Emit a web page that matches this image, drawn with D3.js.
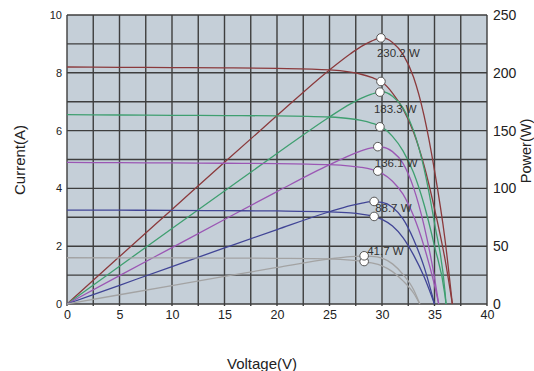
<!DOCTYPE html>
<html>
<head>
<meta charset="utf-8">
<script src="https://cdn.jsdelivr.net/npm/d3@7"></script>
<style>
  body { margin: 0; background: #fff; }
  svg { display: block; font-family: "Liberation Sans", Arial, sans-serif; }
</style>
</head>
<body>
<svg id="chart" width="534" height="371"></svg>
<script>
// I-V and P-V readings, one set per irradiance curve (top to bottom)
const voltageA = [0, 5, 10, 15, 20, 25, 27, 28, 29, 30, 31, 32, 33, 34, 35, 36, 36.7];
const currentA = [8.20, 8.19, 8.18, 8.17, 8.15, 8.10, 8.02, 7.95, 7.84, 7.68, 7.30, 6.75, 5.95, 4.80, 3.30, 1.55, 0];
const powerA = [0, 41, 81.8, 122.6, 163, 202.5, 216.5, 222.6, 227.4, 230.4, 226.3, 216, 196.4, 163.2, 115.5, 55.8, 0];

const voltageB = [0, 5, 10, 15, 20, 25, 27, 28, 29, 30, 31, 32, 33, 34, 35, 36, 36.1];
const currentB = [6.55, 6.54, 6.53, 6.52, 6.51, 6.47, 6.41, 6.35, 6.26, 6.12, 5.80, 5.30, 4.55, 3.45, 2.00, 0.30, 0];
const powerB = [0, 32.7, 65.3, 97.8, 130.2, 161.8, 173.1, 177.8, 181.5, 183.6, 179.8, 169.6, 150.2, 117.3, 70, 10.8, 0];

const voltageC = [0, 5, 10, 15, 20, 25, 27, 28, 29, 30, 31, 32, 33, 34, 35, 35.4];
const currentC = [4.90, 4.89, 4.88, 4.87, 4.86, 4.82, 4.77, 4.73, 4.66, 4.52, 4.25, 3.80, 3.05, 2.00, 0.65, 0];
const powerC = [0, 24.5, 48.8, 73.1, 97.2, 120.5, 128.8, 132.4, 135.1, 135.6, 131.8, 121.6, 100.7, 68, 22.8, 0];

const voltageD = [0, 5, 10, 15, 20, 25, 27, 28, 29, 30, 31, 32, 33, 34, 35];
const currentD = [3.25, 3.245, 3.24, 3.23, 3.22, 3.19, 3.15, 3.11, 3.05, 2.93, 2.70, 2.30, 1.70, 0.95, 0];
const powerD = [0, 16.2, 32.4, 48.5, 64.4, 79.8, 85.1, 87.1, 88.5, 87.9, 83.7, 73.6, 56.1, 32.3, 0];

const voltageE = [0, 5, 10, 15, 20, 25, 27, 28, 29, 30, 31, 32, 33, 33.6];
const currentE = [1.60, 1.598, 1.595, 1.59, 1.58, 1.56, 1.52, 1.48, 1.42, 1.32, 1.12, 0.80, 0.38, 0];
const powerE = [0, 8, 15.95, 23.85, 31.6, 39, 41, 41.4, 41.2, 39.6, 34.7, 25.6, 12.5, 0];

// maximum power points
const mppVoltage = [29.9, 29.8, 29.6, 29.25, 28.3];
const mppCurrent = [7.70, 6.13, 4.60, 3.03, 1.47];
const mppPower = [230.2, 183.3, 136.1, 88.7, 41.7];

// axis ticks
const voltageTicks = [0, 5, 10, 15, 20, 25, 30, 35, 40];
const currentTicks = [0, 2, 4, 6, 8, 10];
const powerTicks = [0, 50, 100, 150, 200, 250];

const colors = ['#8b3a3c', '#3f9f70', '#9b57b4', '#414596', '#a3a3a3'];
// label offsets from the power marker, px
const labelShift = [[-4, 19], [-6, 21], [-3, 20], [1, 10.5], [3, -1]];

const curves = [
    {v: voltageA, i: currentA, p: powerA},
    {v: voltageB, i: currentB, p: powerB},
    {v: voltageC, i: currentC, p: powerC},
    {v: voltageD, i: currentD, p: powerD},
    {v: voltageE, i: currentE, p: powerE}
];

const svg = d3.select('#chart');
const plotLeft = 67, plotRight = 487, plotTop = 15, plotBottom = 304;

const x = d3.scaleLinear().domain([0, 40]).range([plotLeft, plotRight]);
const yI = d3.scaleLinear().domain([0, 10]).range([plotBottom, plotTop]);
const yP = d3.scaleLinear().domain([0, 250]).range([plotBottom, plotTop]);

svg.append('rect')
    .attr('x', plotLeft).attr('y', plotTop)
    .attr('width', plotRight - plotLeft).attr('height', plotBottom - plotTop)
    .attr('fill', '#c5cfd8');

// grid
const grid = svg.append('g').attr('stroke', '#3e3e3e').attr('stroke-width', 1.4);
grid.selectAll('line.v')
    .data(d3.range(0, 40.01, 2.5))
    .join('line')
    .attr('class', 'v')
    .attr('x1', d => x(d)).attr('x2', d => x(d))
    .attr('y1', plotTop).attr('y2', plotBottom + 2);
grid.selectAll('line.h')
    .data(d3.range(0, 10.01, 1))
    .join('line')
    .attr('class', 'h')
    .attr('x1', plotLeft).attr('x2', plotRight)
    .attr('y1', d => yI(d)).attr('y2', d => yI(d));

// axes (labels only, grid draws the lines)
const xAxis = svg.append('g')
    .attr('transform', `translate(0,${plotBottom})`)
    .call(d3.axisBottom(x).tickValues(voltageTicks).tickSize(0).tickPadding(6));
const leftAxis = svg.append('g')
    .attr('transform', `translate(${plotLeft},0)`)
    .call(d3.axisLeft(yI).tickValues(currentTicks).tickSize(0).tickPadding(5));
const rightAxis = svg.append('g')
    .attr('transform', `translate(${plotRight},0)`)
    .call(d3.axisRight(yP).tickValues(powerTicks).tickSize(0).tickPadding(6));

[xAxis, leftAxis, rightAxis].forEach(a => a.select('.domain').remove());
xAxis.selectAll('text').attr('font-size', 12.5).attr('fill', '#222');
leftAxis.selectAll('text').attr('font-size', 11).attr('fill', '#222');
rightAxis.selectAll('text').attr('font-size', 14).attr('fill', '#222');

// curves
const ivLine = d3.line()
    .x(d => x(d[0])).y(d => yI(d[1]))
    .curve(d3.curveMonotoneX);
const pvLine = d3.line()
    .x(d => x(d[0])).y(d => yP(d[1]))
    .curve(d3.curveMonotoneX);

const lines = svg.append('g').attr('fill', 'none').attr('stroke-width', 1.3);
curves.forEach((c, k) => {
    lines.append('path')
        .attr('d', ivLine(c.v.map((v, j) => [v, c.i[j]])))
        .attr('stroke', colors[k]);
    lines.append('path')
        .attr('d', pvLine(c.v.map((v, j) => [v, c.p[j]])))
        .attr('stroke', colors[k]);
});

// MPP markers and labels
const marks = svg.append('g');
mppVoltage.forEach((v, k) => {
    marks.append('circle')
        .attr('cx', x(v)).attr('cy', yI(mppCurrent[k])).attr('r', 4.3)
        .attr('fill', '#fff').attr('stroke', '#555').attr('stroke-width', 1);
    marks.append('circle')
        .attr('cx', x(v)).attr('cy', yP(mppPower[k])).attr('r', 4.3)
        .attr('fill', '#fff').attr('stroke', '#555').attr('stroke-width', 1);
    marks.append('text')
        .attr('x', x(v) + labelShift[k][0])
        .attr('y', yP(mppPower[k]) + labelShift[k][1])
        .attr('font-size', 11.5).attr('fill', '#333')
        .text(`${mppPower[k]} W`);
});

// axis titles
svg.append('text')
    .attr('transform', 'translate(25,160) rotate(-90)')
    .attr('text-anchor', 'middle')
    .attr('font-size', 15).attr('fill', '#222')
    .text('Current(A)');
svg.append('text')
    .attr('transform', 'translate(531,151) rotate(-90)')
    .attr('text-anchor', 'middle')
    .attr('font-size', 14.5).attr('fill', '#222')
    .text('Power(W)');
svg.append('text')
    .attr('x', 262).attr('y', 369)
    .attr('text-anchor', 'middle')
    .attr('font-size', 15).attr('fill', '#222')
    .text('Voltage(V)');
</script>
</body>
</html>
